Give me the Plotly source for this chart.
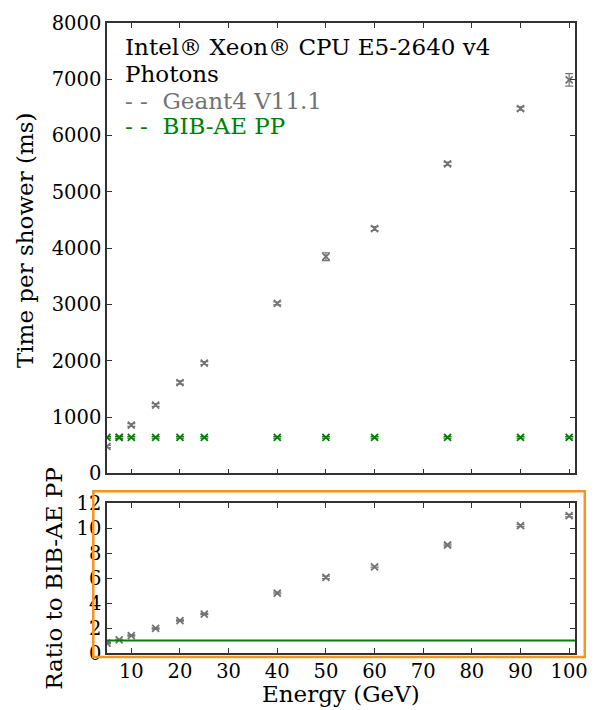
import plotly.graph_objects as go
from plotly.subplots import make_subplots

energy = [5, 7.5, 10, 15, 20, 25, 40, 50, 60, 75, 90, 100]
geant4_time = [480, 640, 860, 1215, 1615, 1960, 3020, 3850, 4350, 5500, 6480, 6990]
geant4_err = [20, 20, 25, 25, 30, 25, 25, 70, 35, 30, 30, 110]
bibae_time = [640, 640, 640, 640, 640, 640, 640, 640, 640, 640, 640, 640]
bibae_err = [15, 15, 15, 15, 15, 15, 15, 15, 15, 15, 15, 15]
ratio = [0.8, 1.05, 1.4, 1.97, 2.6, 3.12, 4.8, 6.05, 6.9, 8.65, 10.2, 11.0]
ratio_err = [0.05, 0.05, 0.05, 0.05, 0.05, 0.05, 0.07, 0.1, 0.07, 0.07, 0.08, 0.1]

title_lines = ["Intel® Xeon® CPU E5-2640 v4", "Photons"]
series_names = ["Geant4 V11.1", "BIB-AE PP"]

GRAY = "rgb(115,115,115)"
GREEN = "rgb(0,128,0)"
FONT = "DejaVu Serif"

fig = make_subplots(rows=2, cols=1, shared_xaxes=False)

fig.add_trace(go.Scatter(
    x=energy, y=geant4_time, mode="markers",
    marker=dict(symbol="x-thin", size=7, line=dict(width=1.8, color=GRAY), color=GRAY),
    error_y=dict(type="data", array=geant4_err, color=GRAY, thickness=1.2, width=4),
    showlegend=False), row=1, col=1)
fig.add_trace(go.Scatter(
    x=energy, y=bibae_time, mode="markers",
    marker=dict(symbol="x-thin", size=7, line=dict(width=1.8, color=GREEN), color=GREEN),
    error_y=dict(type="data", array=bibae_err, color=GREEN, thickness=1.2, width=4),
    showlegend=False), row=1, col=1)
fig.add_trace(go.Scatter(
    x=energy, y=ratio, mode="markers",
    marker=dict(symbol="x-thin", size=7, line=dict(width=1.8, color=GRAY), color=GRAY),
    error_y=dict(type="data", array=ratio_err, color=GRAY, thickness=1.2, width=4),
    showlegend=False), row=2, col=1)

fig.add_shape(type="line", xref="x2 domain", yref="y2", x0=0, x1=1, y0=1, y1=1,
              line=dict(color=GREEN, width=2))

axis_common = dict(
    showline=True, mirror="allticks", linecolor="rgb(50,50,50)", linewidth=1.5,
    ticks="inside", ticklen=5, tickwidth=1, tickcolor="rgb(50,50,50)",
    showgrid=False, zeroline=False,
    tickfont=dict(family=FONT, size=19.5, color="black"),
)

fig.update_xaxes(**axis_common, range=[5, 101.2], dtick=10, tick0=0)
fig.update_xaxes(showticklabels=False, domain=[0, 1], row=1, col=1)
fig.update_xaxes(domain=[0, 1], row=2, col=1)
fig.update_yaxes(**axis_common)
fig.update_yaxes(range=[0, 8000], dtick=1000, domain=[0.285, 1.0], row=1, col=1)
fig.update_yaxes(range=[0, 12], dtick=2, domain=[0, 0.2378], row=2, col=1)

# axis titles
TITLE_FONT = dict(family=FONT, size=23, color="black")
fig.add_annotation(text="Time per shower (ms)", xref="paper", yref="paper",
                   x=-0.1736, y=0.655, xanchor="center", yanchor="middle",
                   textangle=-90, showarrow=False, font=TITLE_FONT)
fig.add_annotation(text="Ratio to BIB-AE PP", xref="paper", yref="paper",
                   x=-0.113, y=0.118, xanchor="center", yanchor="middle",
                   textangle=-90, showarrow=False, font=TITLE_FONT)
fig.add_annotation(text="Energy (GeV)", xref="paper", yref="paper",
                   x=0.5, y=-0.0655, xanchor="center", yanchor="middle",
                   showarrow=False, font=TITLE_FONT)

# text legend
label_y = [0.962, 0.9197, 0.8756, 0.836]
texts = [title_lines[0], title_lines[1], "- -  " + series_names[0], "- -  " + series_names[1]]
colors = ["black", "black", GRAY, GREEN]
for t, yy, c in zip(texts, label_y, colors):
    fig.add_annotation(text=t, xref="paper", yref="paper", x=0.035, y=yy,
                       xanchor="left", yanchor="middle", showarrow=False,
                       font=dict(family=FONT, size=23, color=c))

# orange highlight rectangle around ratio panel
fig.add_shape(type="rect", xref="paper", yref="paper", x0=-0.0293, x1=1.0209,
              y0=-0.0063, y1=0.2567, line=dict(color="rgb(247,148,30)", width=2.5),
              fillcolor="rgba(0,0,0,0)")

fig.update_layout(
    width=600, height=710,
    margin=dict(l=107, r=15, t=18, b=57),
    paper_bgcolor="white", plot_bgcolor="white",
    font=dict(family=FONT, color="black"),
)

fig.write_html("out.html")
